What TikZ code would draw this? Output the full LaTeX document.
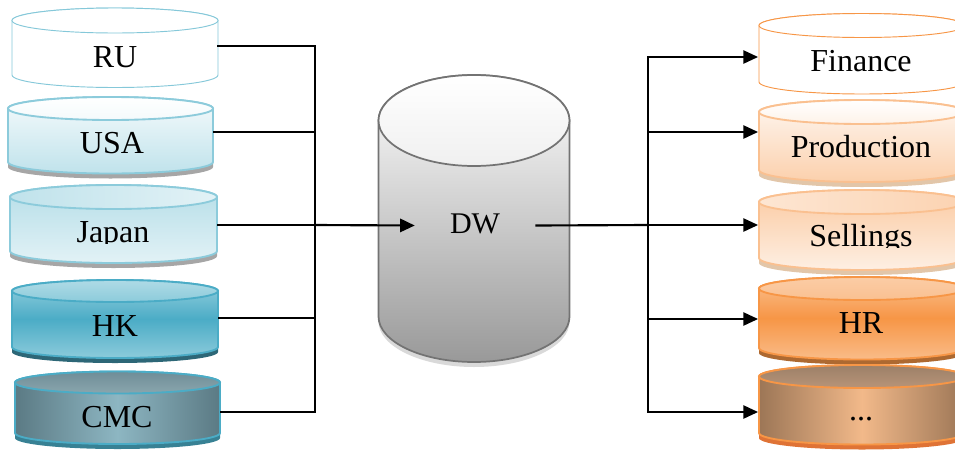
\documentclass[tikz,border=0pt]{standalone}
\usepackage{fontspec}
\setmainfont{Liberation Serif}
\usetikzlibrary{arrows.meta}
\definecolor{bluestroke}{HTML}{8CCBDB}
\definecolor{bluedark}{HTML}{4BACC6}
\definecolor{orstroke}{HTML}{F79646}
\definecolor{orlight}{HTML}{FAC090}
\definecolor{cmcedge}{HTML}{5B7A84}
\definecolor{cmcmid}{HTML}{8DB6C2}
\definecolor{cmctop}{HTML}{6F8D97}
\definecolor{cmctopb}{HTML}{8AA6AE}
\definecolor{etcedge}{HTML}{9C7656}
\definecolor{etcmid}{HTML}{F2B98A}
\definecolor{etctop}{HTML}{9C8068}
\definecolor{etctopb}{HTML}{B89478}
% #1 cx, #2 top-ellipse y, #3 bottom-ellipse y, #4 rx, #5 ry, #6 body style, #7 top style, #8 stroke style, #9 shadow style
\newcommand\drawcyl[9]{%
  \fill[#9] (#1-#4,#3+5) arc[start angle=180,end angle=0,x radius=#4,y radius=#5] -- (#1+#4,#3-2) -- (#1-#4,#3-2) -- cycle;
  \path[#6,#8] (#1-#4,#2) -- (#1-#4,#3) arc[start angle=180,end angle=0,x radius=#4,y radius=#5] -- (#1+#4,#2) arc[start angle=0,end angle=-180,x radius=#4,y radius=#5] -- cycle;
  \path[#7,#8] (#1,#2) ellipse[x radius=#4,y radius=#5];
}
\begin{document}
\begin{tikzpicture}[x=0.75pt,y=-0.75pt,
  lbl/.style={font=\fontsize{24}{28}\selectfont, inner sep=0pt, text height=16.8pt, text depth=4.8pt},
  conn/.style={line width=1.1pt, black},
  trunk/.style={line width=1.6pt, black},
  tip/.style={-{Triangle[length=11pt,width=10pt]}}]
\useasboundingbox (0,0) rectangle (955,450);
\clip (0,0) rectangle (955,450);

% ---------- left sources ----------
\drawcyl{115}{20.5}{75}{103}{12.5}{fill=white}{fill=white}{draw=bluestroke!90!bluedark,line width=0.7pt}{fill=none}
\drawcyl{110.5}{108.5}{162}{102.5}{11.5}{top color=white!92!bluestroke,bottom color=bluestroke!55!white}{top color=white,bottom color=bluestroke!10!white}{draw=bluestroke,line width=1.4pt}{fill=black!35}
\drawcyl{113.5}{197}{251}{103.5}{12}{top color=bluestroke!65!white,bottom color=bluestroke!25!white}{left color=bluestroke!55!white,right color=bluestroke!25!white}{draw=bluestroke,line width=1.4pt}{fill=black!35}
\drawcyl{115}{291}{347}{103}{11}{top color=bluestroke!90!white,bottom color=bluestroke,middle color=bluedark}{top color=bluestroke!70!white,bottom color=bluestroke}{draw=bluedark,line width=1.4pt}{fill=bluedark!60!black}
\drawcyl{117.5}{382.5}{433}{102.5}{11}{left color=cmcedge,right color=cmcedge,middle color=cmcmid}{top color=cmctop,bottom color=cmctopb}{draw=bluedark,line width=1.4pt}{fill=bluedark!75!black}

\node[lbl] (ru) at (115,59) {RU};
\node[lbl] (usa) at (112,145) {USA};
\begin{scope}
  \clip (0,185) rectangle (330,243);
  \node[lbl] (japan) at (113,234) {Japan};
\end{scope}
\node[lbl] (hk) at (115,328) {HK};
\node[lbl] (cmc) at (117,419) {CMC};

% ---------- DW ----------
\drawcyl{474}{120.5}{316.5}{95.5}{45.5}{top color=white,bottom color=black!40}{top color=white,bottom color=black!6}{draw=black!55,line width=1.3pt}{fill=black!15}
\node[lbl, font=\fontsize{22.5}{26}\selectfont, minimum width=90pt] (dw) at (475,225.5) {DW};

% ---------- right targets ----------
\drawcyl{862}{25.5}{82}{103}{12}{fill=white}{fill=white}{draw=orstroke,line width=0.7pt}{fill=none}
\drawcyl{862}{112}{170}{103}{12}{top color=orlight!12!white,bottom color=orlight!75!white}{top color=white,bottom color=orlight!20!white}{draw=orlight,line width=1.4pt}{fill=brown!45!white}
\drawcyl{862}{202}{258}{103}{12}{top color=orlight!85!white,bottom color=orlight!25!white}{left color=orlight!40!white,right color=orlight!70!white}{draw=orlight,line width=1.4pt}{fill=brown!45!white}
\drawcyl{862}{288.5}{348}{103}{11.5}{top color=orlight,bottom color=orlight!90!orstroke,middle color=orstroke}{top color=orlight!80!white,bottom color=orlight}{draw=orstroke,line width=1.4pt}{fill=orstroke!70!black}
\drawcyl{862}{376.5}{433}{103}{11.5}{left color=etcedge,right color=etcedge,middle color=etcmid}{top color=etctop,bottom color=etctopb}{draw=orstroke,line width=1.4pt}{fill=orstroke!85!red!90!black}

\node[lbl] (fin) at (861,63) {Finance};
\node[lbl] (prod) at (861,149) {Production};
\begin{scope}
  \clip (740,190) rectangle (955,247);
  \node[lbl] (sell) at (861,238) {Sellings};
\end{scope}
\node[lbl] (hr) at (861,325) {HR};
\node[lbl] (etc) at (861,412) {...};

% ---------- ports ----------
\coordinate (ru-o) at (217,46);
\coordinate (usa-o) at (213,132);
\coordinate (japan-o) at (217,225);
\coordinate (hk-o) at (218,318);
\coordinate (cmc-o) at (220,412);
\coordinate (jl) at (315,225);
\coordinate (jr) at (648,225);
\coordinate (fin-i) at (758,57);
\coordinate (prod-i) at (758,132);
\coordinate (sell-i) at (758,225);
\coordinate (hr-i) at (758,319);
\coordinate (etc-i) at (758,412);

% ---------- connectors ----------
\draw[conn] (ru-o) -| (jl);
\draw[conn] (usa-o) -| (jl);
\draw[conn] (japan-o) -- (jl);
\draw[conn] (hk-o) -| (jl);
\draw[conn] (cmc-o) -| (jl);
\draw[trunk,tip] (jl) -- (dw.west);
\draw[trunk] (dw.east) -- (jr);
\draw[conn,tip] (jr) |- (fin-i);
\draw[conn,tip] (jr) |- (prod-i);
\draw[conn,tip] (jr) -- (sell-i);
\draw[conn,tip] (jr) |- (hr-i);
\draw[conn,tip] (jr) |- (etc-i);
\end{tikzpicture}
\end{document}
